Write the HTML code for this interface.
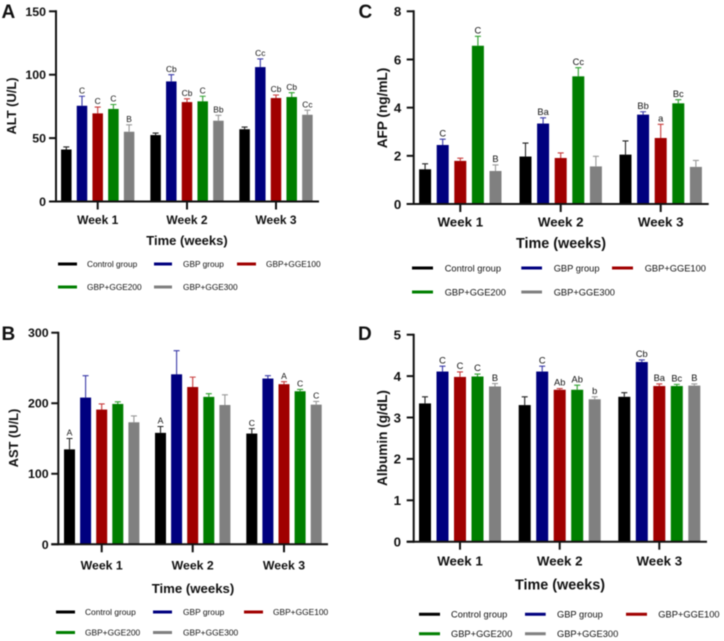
<!DOCTYPE html>
<html lang="en">
<head>
<meta charset="utf-8">
<title>Liver markers by week</title>
<style>
html,body{margin:0;padding:0;background:#fff;}
body{width:724px;height:641px;overflow:hidden;}
svg{display:block;filter:blur(0.5px);}
text{font-family:"Liberation Sans",sans-serif;fill:#111;}
</style>
</head>
<body>
<svg id="figure" width="724" height="641" viewBox="0 0 724 641" xmlns="http://www.w3.org/2000/svg"></svg>
<script>
// Shared categories
const weeks = ['Week 1', 'Week 2', 'Week 3'];
const groups = ['Control group', 'GBP group', 'GBP+GGE100', 'GBP+GGE200', 'GBP+GGE300'];

// Panel A: ALT
const altTicks = [0, 50, 100, 150];
const altValues = [[41, 75.5, 69.5, 73, 55], [52.4, 94.7, 78.4, 79, 63.7], [57, 106, 81.6, 82.4, 68.4]];
const altErrors = [[2, 7.5, 5, 3.5, 5.5], [1.6, 5.3, 2.6, 4, 4.3], [1.7, 6.4, 2.4, 3.4, 3.6]];
const altLetters = [['', 'C', 'C', 'C', 'B'], ['', 'Cb', 'Cb', 'C', 'Bb'], ['', 'Cc', 'Cb', 'Cb', 'Cc']];

// Panel B: AST
const astTicks = [0, 100, 200, 300];
const astValues = [[134.6, 208, 191, 199, 173], [158, 241, 223, 209, 197.5], [157, 235, 227, 217, 198]];
const astErrors = [[15.4, 31, 8, 3, 9], [9, 33.5, 14, 4.5, 14.5], [7, 4, 3.5, 2.6, 4.6]];
const astLetters = [['A', '', '', '', ''], ['A', '', '', '', ''], ['C', '', 'A', 'C', 'C']];

// Panel C: AFP
const afpTicks = [0, 2, 4, 6, 8];
const afpValues = [[1.44, 2.45, 1.79, 6.57, 1.37], [1.97, 3.34, 1.91, 5.3, 1.56], [2.05, 3.71, 2.74, 4.18, 1.54]];
const afpErrors = [[0.23, 0.24, 0.11, 0.39, 0.25], [0.56, 0.24, 0.21, 0.36, 0.42], [0.57, 0.12, 0.57, 0.15, 0.27]];
const afpLetters = [['', 'C', '', 'C', 'B'], ['', 'Ba', '', 'Cc', ''], ['', 'Bb', 'a', 'Bc', '']];

// Panel D: Albumin
const albTicks = [0, 1, 2, 3, 4, 5];
const albValues = [[3.34, 4.11, 3.98, 3.99, 3.75], [3.3, 4.11, 3.67, 3.67, 3.44], [3.5, 4.34, 3.76, 3.76, 3.77]];
const albErrors = [[0.16, 0.13, 0.12, 0.06, 0.07], [0.2, 0.13, 0.03, 0.11, 0.06], [0.1, 0.05, 0.05, 0.04, 0.04]];
const albLetters = [['', 'C', 'C', 'C', 'B'], ['', 'C', 'Ab', 'Ab', 'b'], ['', 'Cb', 'Ba', 'Bc', 'B']];

// Styles and layout (not data)
const barColors = ['#000000', '#00007f', '#a00000', '#007f00', '#808080'];
const errColors = ['#222222', '#3a3aa8', '#c83c3c', '#2ea02e', '#999999'];
const layouts = [
  {key:'a', letter:'A', letterX:1.5, letterY:18, yLabel:'ALT (U/L)', ticks:altTicks, values:altValues, errors:altErrors, letters:altLetters,
   axisX:56, top:11.3, zero:201.5, endX:319, centers:[97.7,187,276], step:15.7, barW:10.5, tickFs:12.4, tickRight:46, weekFs:12, weekY:224,
   titleFs:13, titleX:187, titleY:245, yTitleX:16, yTitleY:106, yTitleFs:12.9, annFs:8.4,
   legendFs:8.3, legendRows:[264,287], legendCols:[[58,77,87],[154,172,183],[237,256,266]]},
  {key:'b', letter:'B', letterX:1.5, letterY:340, yLabel:'AST (U/L)', ticks:astTicks, values:astValues, errors:astErrors, letters:astLetters,
   axisX:58.3, top:332.7, zero:544.3, endX:328, centers:[101.7,192.7,284], step:16.1, barW:11, tickFs:12.4, tickRight:48.7, weekFs:12.3, weekY:569.3,
   titleFs:13.2, titleX:193, titleY:593, yTitleX:18, yTitleY:438, yTitleFs:12.9, annFs:8.6,
   legendFs:8.4, legendRows:[612,632.5], legendCols:[[56,75,85],[153,172,183],[244,263,273]]},
  {key:'c', letter:'C', letterX:358.5, letterY:18, yLabel:'AFP (ng/mL)', ticks:afpTicks, values:afpValues, errors:afpErrors, letters:afpLetters,
   axisX:413.7, top:11.3, zero:204, endX:708.7, centers:[460.3,560.7,660.7], step:17.6, barW:12, tickFs:13.3, tickRight:401.3, weekFs:13.3, weekY:226.7,
   titleFs:14.4, titleX:561, titleY:248, yTitleX:387, yTitleY:108, yTitleFs:13.6, annFs:9.3,
   legendFs:9.3, legendRows:[268,292], legendCols:[[412,433,444.7],[521.3,542,553.7],[612,633,644.7]]},
  {key:'d', letter:'D', letterX:358, letterY:340, yLabel:'Albumin (g/dL)', ticks:albTicks, values:albValues, errors:albErrors, letters:albLetters,
   axisX:413.7, top:334.7, zero:541.7, endX:707, centers:[460,559.7,659.3], step:17.5, barW:12, tickFs:13.3, tickRight:401, weekFs:13.3, weekY:565.7,
   titleFs:14.4, titleX:560, titleY:589.3, yTitleX:387, yTitleY:438, yTitleFs:13.6, annFs:9.3,
   legendFs:9.3, legendRows:[614.3,633.7], legendCols:[[419,440,451],[525,545.7,557],[626,647,658.3]]}
];

const svg = document.getElementById('figure');
const NS = 'http://www.w3.org/2000/svg';

function make(tag, attrs, parent, content) {
  const node = document.createElementNS(NS, tag);
  for (const k in attrs) node.setAttribute(k, attrs[k]);
  if (content !== undefined) node.textContent = content;
  parent.appendChild(node);
  return node;
}

function line(x1, y1, x2, y2, stroke, width, parent) {
  return make('line', {x1:x1, y1:y1, x2:x2, y2:y2, stroke:stroke, 'stroke-width':width}, parent);
}

layouts.forEach(function (p) {
  const maxTick = p.ticks[p.ticks.length - 1];
  const yScale = function (v) { return p.zero - (v / maxTick) * (p.zero - p.top); };
  const xScale = function (weekIndex, groupIndex) { return p.centers[weekIndex] + (groupIndex - 2) * p.step; };

  const panel = make('g', {}, svg);
  
  

  const letter = make('text', {x:p.letterX, y:p.letterY, 'font-size':19, 'font-weight':'bold', fill:'#111'}, panel, p.letter);
  
  

  // Bars, error bars, significance letters
  p.values.forEach(function (row, w) {
    row.forEach(function (value, g) {
      const cx = xScale(w, g);
      const yTop = yScale(value);
      const yErr = yScale(value + p.errors[w][g]);

      const whisker = make('path', {
        d:'M' + cx + ' ' + yTop + 'V' + yErr + 'M' + (cx - 3) + ' ' + yErr + 'H' + (cx + 3),
        stroke:errColors[g], 'stroke-width':1.1, fill:'none'
      }, panel);
      
      

      const bar = make('rect', {x:cx - p.barW / 2, y:yTop, width:p.barW, height:p.zero - yTop, fill:barColors[g]}, panel);
      
      

      const mark = p.letters[w][g];
      if (mark) {
        const ann = make('text', {x:cx, y:yErr - 2.8, 'font-size':p.annFs, 'text-anchor':'middle', fill:'#222'}, panel, mark);
        
        
      }
    });
  });

  // Y axis
  const yAxis = line(p.axisX, p.top - 1, p.axisX, p.zero + 1, '#111', 2, panel);
  
  

  p.ticks.forEach(function (t) {
    const y = yScale(t);
    const tick = line(p.axisX - 7, y, p.axisX, y, '#111', 2, panel);
    
    
    const label = make('text', {x:p.tickRight, y:y + p.tickFs * 0.36, 'font-size':p.tickFs, 'font-weight':'bold', 'text-anchor':'end'}, panel, String(t));
    
    
  });

  // X axis
  const xAxis = line(p.axisX - 7, p.zero, p.endX, p.zero, '#111', 2, panel);
  
  

  weeks.forEach(function (name, w) {
    const cx = p.centers[w];
    const tick = line(cx, p.zero, cx, p.zero + 8, '#111', 2, panel);
    
    
    const label = make('text', {x:cx, y:p.weekY, 'font-size':p.weekFs, 'font-weight':'bold', 'text-anchor':'middle'}, panel, name);
    
    
  });

  const xTitle = make('text', {x:p.titleX, y:p.titleY, 'font-size':p.titleFs, 'font-weight':'bold', 'text-anchor':'middle'}, panel, 'Time (weeks)');
  
  

  const yTitle = make('text', {
    x:p.yTitleX, y:p.yTitleY, 'font-size':p.yTitleFs, 'font-weight':'bold', 'text-anchor':'middle',
    transform:'rotate(-90 ' + p.yTitleX + ' ' + p.yTitleY + ')'
  }, panel, p.yLabel);
  
  

  // Legend
  groups.forEach(function (name, g) {
    const col = p.legendCols[g % 3];
    const y = p.legendRows[g < 3 ? 0 : 1];
    const entry = make('g', {}, panel);
    
    
    line(col[0], y, col[1], y, barColors[g], 3, entry);
    make('text', {x:col[2], y:y + p.legendFs * 0.35, 'font-size':p.legendFs, fill:'#333'}, entry, name);
  });
});
</script>
</body>
</html>
